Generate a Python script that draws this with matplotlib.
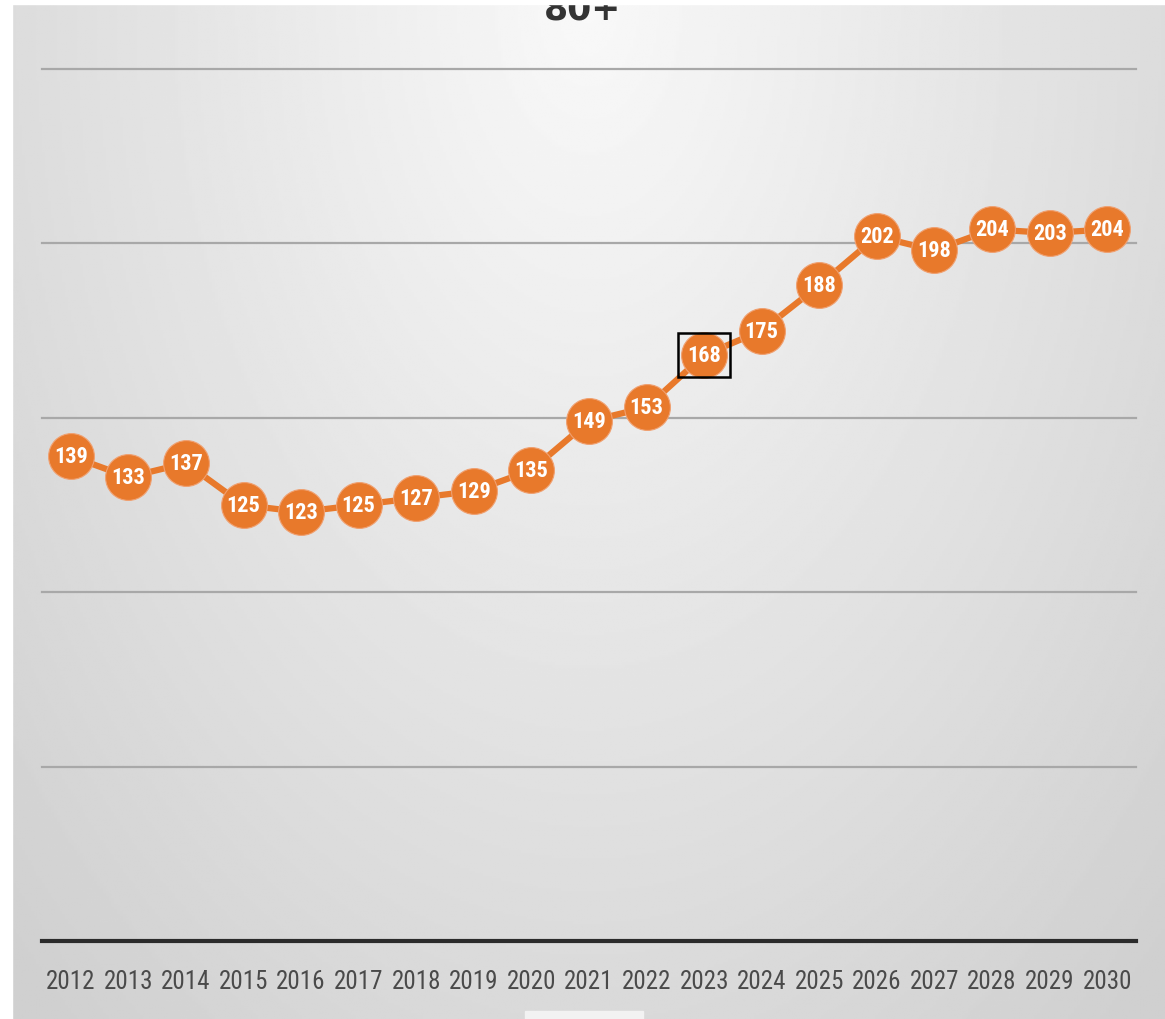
import numpy as np
import matplotlib.pyplot as plt
from matplotlib import font_manager
from matplotlib.patches import Rectangle

years = [str(y) for y in range(2012, 2031)]
values = [139, 133, 137, 125, 123, 125, 127, 129, 135, 149, 153, 168,
          175, 188, 202, 198, 204, 203, 204]
title = '80+'
highlight = '2023'

names = {f.name for f in font_manager.fontManager.ttflist}
narrow = [n for n in ['Liberation Sans Narrow', 'Roboto Condensed',
                      'DejaVu Sans Condensed', 'Open Sans Condensed']
          if n in names] + ['DejaVu Sans']

W, H = 1165, 1020
fig = plt.figure(figsize=(W / 100, H / 100), dpi=100)

# background gradient (light top centre, darker edges / bottom)
bg = fig.add_axes([12 / W, 0, 1 - 12 / W, 1 - 5 / H], zorder=0)
gx, gy = np.meshgrid(np.linspace(-1, 1, 400), np.linspace(0, 1, 400))
r = np.sqrt((gx / 1.1) ** 2 + (gy * 1.0) ** 2)
shade = 0.975 - 0.16 * np.clip(r, 0, 1.3) / 1.3
bg.imshow(shade, cmap='gray', vmin=0, vmax=1, aspect='auto',
          extent=[0, 1, 0, 1], origin='upper')
bg.add_patch(Rectangle((530 / W - 12 / W, 0), 120 / W, 8 / H,
                       transform=bg.transAxes, color='#f2f2f2'))
bg.axis('off')

# plot area: x 42..1136, y value 0 at 942, 250 at 70
x0, x1 = 42 / W, 1136 / W
ytop, ybot = 70, 942
ax = fig.add_axes([x0, 1 - ybot / H, x1 - x0, (ybot - ytop) / H], zorder=1)
ax.patch.set_alpha(0)
ax.set_xlim(-0.5, len(years) - 0.5)
ax.set_ylim(0, 250)

for v in [50, 100, 150, 200, 250]:
    ax.axhline(v, color='#a8a8a8', lw=1.6, zorder=1, clip_on=False)
ax.axhline(0, color='#2b2b2b', lw=3, zorder=2, clip_on=False)

xs = np.arange(len(years))
orange = '#e8792b'
ax.plot(xs, values, color=orange, lw=4.5, zorder=3, clip_on=False)
ax.plot(xs, values, 'o', color=orange, ms=33, mec='#f0a070', mew=0.8,
        zorder=4, clip_on=False)
for x, v, yr in zip(xs, values, years):
    ax.text(x, v, str(v), ha='center', va='center', color='white',
            fontsize=16, fontweight='bold', zorder=5, family=narrow)
    if yr == highlight:
        ax.add_patch(Rectangle((x - 0.45, v - 6.2), 0.9, 12.4,
                               fill=False, ec='black', lw=1.8, zorder=6))

ax.set_xticks(xs)
ax.set_xticklabels(years, fontsize=18, color='#4a4a4a', family=narrow)
ax.tick_params(axis='x', length=0, pad=20)
ax.set_yticks([])
for s in ax.spines.values():
    s.set_visible(False)

fig.text(0.5, 1 - 10 / H, title, ha='center', va='center', fontsize=25,
         fontweight='bold', color='#333333', zorder=3)
fig.add_artist(Rectangle((0, 1 - 5 / H), 1, 5 / H, transform=fig.transFigure,
                         color='white', zorder=10))
fig.add_artist(Rectangle((0, 0), 12 / W, 1, transform=fig.transFigure,
                         color='white', zorder=10))

fig.savefig('out.png', dpi=100)
